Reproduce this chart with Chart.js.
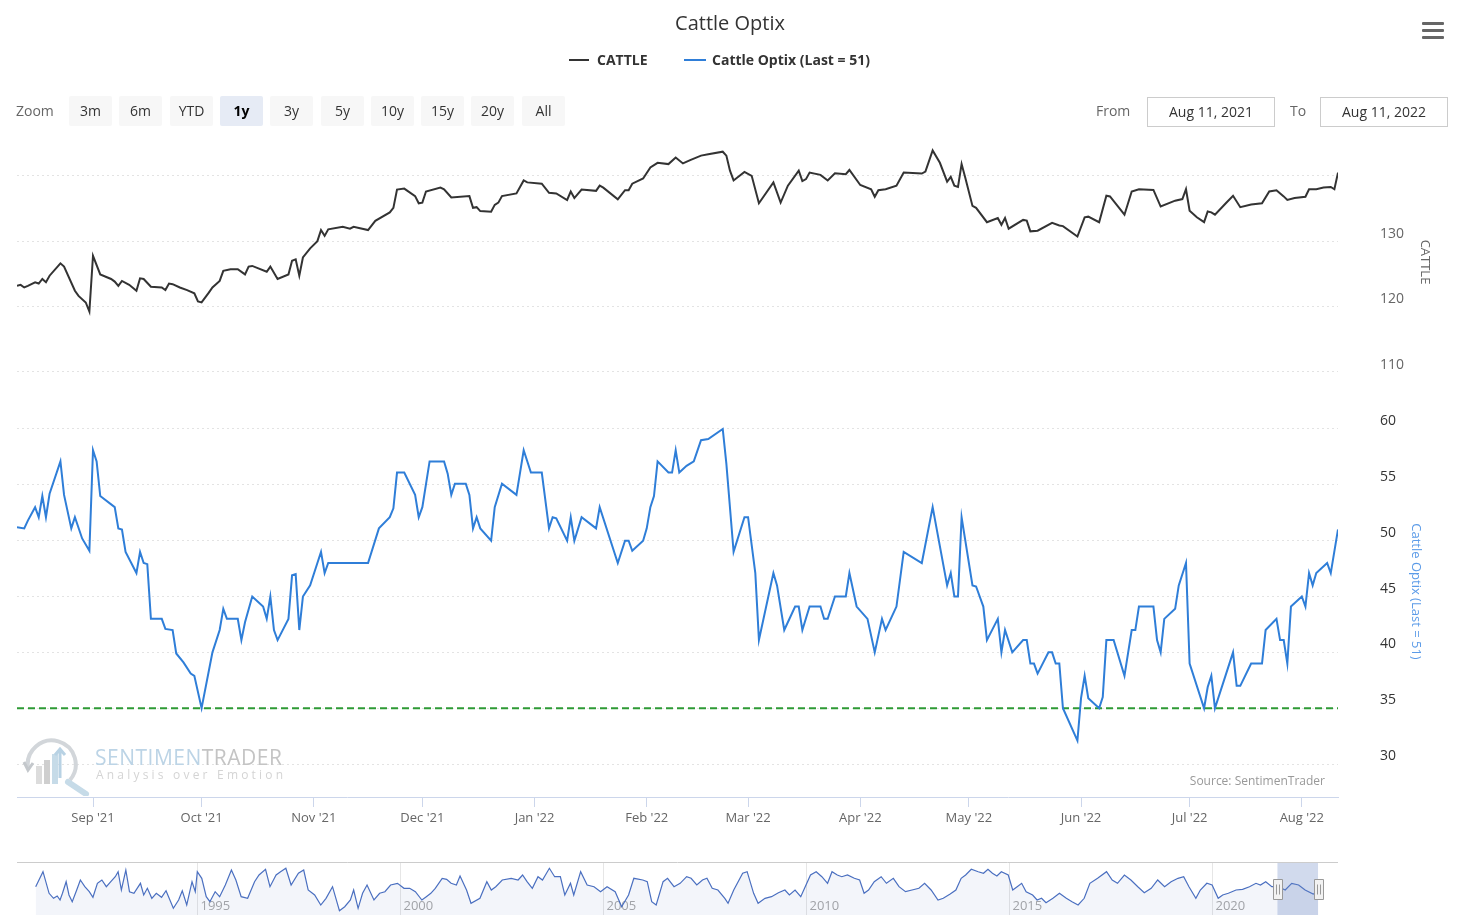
<!DOCTYPE html>
<html>
<head>
<meta charset="utf-8">
<script src="https://cdn.jsdelivr.net/npm/chart.js@4.4.0/dist/chart.umd.min.js"></script>
<style>
  body { margin: 0; background: #fff; font-family: "Open Sans", sans-serif; }
  #wrap { position: relative; width: 1460px; height: 915px; overflow: hidden; }
  canvas { position: absolute; left: 0; }
  .abs { position: absolute; white-space: nowrap; }
  #title { top: 9px; left: 0; width: 1460px; text-align: center; font-size: 20px; line-height: 28px; color: #333; }
  .leg { top: 50px; font-size: 14px; font-weight: bold; line-height: 20px; color: #333; }
  .legline { top: 59px; height: 2px; }
  .btn { top: 96px; width: 43px; height: 30px; line-height: 30px; text-align: center; font-size: 14px; color: #333; background: #f7f7f7; border-radius: 2px; }
  .btn.on { background: #e6ebf5; font-weight: bold; color: #000; }
  .lbl { top: 96px; line-height: 30px; font-size: 14px; color: #666; }
  .inp { top: 97px; width: 126px; height: 28px; line-height: 28px; border: 1px solid #ccc; text-align: center; font-size: 14px; color: #333; }
  .bar { left: 1422px; width: 22px; height: 3px; background: #666; border-radius: 1px; }
</style>
</head>
<body>
<div id="wrap">
  <canvas id="main" width="1460" height="850" style="top:0"></canvas>
  <canvas id="nav" width="1460" height="53" style="top:862px"></canvas>

  <div id="title" class="abs">Cattle Optix</div>
  <div class="abs legline" style="left:569px;width:20px;background:#333"></div>
  <div class="abs leg" style="left:597px">CATTLE</div>
  <div class="abs legline" style="left:684px;width:22px;background:#2f7ed8"></div>
  <div class="abs leg" style="left:712px">Cattle Optix (Last = 51)</div>

  <div class="abs bar" style="top:22px"></div>
  <div class="abs bar" style="top:29px"></div>
  <div class="abs bar" style="top:36px"></div>

  <div class="abs lbl" style="left:16px">Zoom</div>
  <div id="buttons"></div>
  <div class="abs lbl" style="left:1096px">From</div>
  <div class="abs inp" style="left:1147px">Aug 11, 2021</div>
  <div class="abs lbl" style="left:1290px">To</div>
  <div class="abs inp" style="left:1320px">Aug 11, 2022</div>

  <svg class="abs" style="left:20px;top:738px" width="72" height="58" viewBox="0 0 72 58">
    <path d="M8 30 A24 24 0 1 1 50 42" fill="none" stroke="#d2d6da" stroke-width="4"/>
    <path d="M4 24 L8 32 L13 25" fill="none" stroke="#c4c8cc" stroke-width="3"/>
    <rect x="16" y="28" width="6" height="18" fill="#dcdcdc"/>
    <rect x="24" y="22" width="6" height="24" fill="#cfcfcf"/>
    <rect x="32" y="16" width="6" height="30" fill="#c6dbe8"/>
    <path d="M40 40 L40 12 M35 17 L40 11 L45 17" fill="none" stroke="#b8d2e4" stroke-width="3"/>
    <path d="M48 44 L66 56" stroke="#c6dbe8" stroke-width="6" stroke-linecap="round"/>
  </svg>
  <div class="abs" style="left:95px;top:744px;font-size:21px;line-height:26px;letter-spacing:0.5px"><span style="color:#bcd4e6">SENTIMEN</span><span style="color:#c4c4c4">TRADER</span></div>
  <div class="abs" style="left:96px;top:767px;font-size:12px;line-height:16px;letter-spacing:3.2px;color:#d4d4d4">Analysis over Emotion</div>
  <div class="abs" style="right:135px;top:773px;font-size:12px;line-height:16px;color:#999">Source: SentimenTrader</div>
</div>

<script>
// day = days since Aug 11, 2021
const monthDays = [21, 51, 82, 112, 143, 174, 202, 233, 263, 294, 324, 355];
const monthLabels = ["Sep '21", "Oct '21", "Nov '21", "Dec '21", "Jan '22", "Feb '22",
                     "Mar '22", "Apr '22", "May '22", "Jun '22", "Jul '22", "Aug '22"];

const cattleDays = [0,1,2,3,5,6,7,8,9,12,13,16,17,19,20,21,23,26,27,28,29,31,33,34,35,37,40,41,42,43,45,47,49,50,51,53,54,56,57,59,61,63,64,65,69,70,72,75,76,77,78,79,81,83,84,85,86,90,92,93,97,99,103,104,105,107,110,111,112,113,117,118,120,125,126,127,128,131,132,133,134,138,140,141,145,147,149,152,153,154,156,160,161,162,166,168,169,170,173,175,177,180,182,184,186,189,191,195,196,197,198,201,203,205,209,211,213,216,217,218,219,222,224,226,229,230,233,236,237,238,240,243,245,250,251,253,255,257,258,259,260,261,262,264,265,268,271,272,273,274,278,279,280,282,286,288,289,293,295,296,299,301,302,306,308,310,314,316,320,322,323,324,326,328,329,330,331,334,336,338,341,344,346,348,350,351,353,356,357,359,361,363,364,365];
const cattle = [123.15,123.3,122.9,123.15,123.7,123.5,124.2,123.7,124.7,126.6,126.1,122.4,121.6,120.6,119.2,127.75,124.9,124.2,123.8,123.15,123.9,123.3,122.4,124.3,124.2,123.0,122.9,122.5,123.5,123.4,122.9,122.5,122.0,120.75,120.6,122.1,122.9,123.9,125.45,125.7,125.7,124.9,126.1,126.2,125.3,126.1,124.2,124.9,127.0,127.2,124.7,127.5,128.9,130.0,131.7,130.8,131.8,132.2,131.9,132.2,131.7,133.1,134.4,135.1,137.9,138.05,136.9,135.8,135.9,137.6,138.2,137.95,136.7,136.9,135.1,135.2,134.6,134.5,135.55,135.9,136.9,137.3,139.3,139.0,138.8,137.4,137.3,136.3,137.6,136.6,137.9,137.7,138.5,138.2,136.4,137.8,137.8,138.8,139.6,141.3,142.0,141.8,142.8,141.9,142.4,143.1,143.3,143.7,143.1,140.8,139.3,140.6,140.0,135.8,139.0,135.9,138.5,140.8,139.2,139.5,140.5,140.15,139.3,140.4,140.25,140.9,138.6,137.95,136.8,137.8,137.95,138.5,140.5,140.35,140.65,143.9,142.0,139.1,139.85,138.5,138.3,141.8,139.75,135.4,135.1,132.9,133.55,132.5,133.55,131.9,133.25,133.15,131.5,131.6,132.8,132.4,132.3,130.7,133.65,133.75,132.9,136.95,136.85,134.05,137.6,137.95,137.85,135.3,136.2,136.45,137.95,134.65,133.65,132.9,134.55,134.4,134.05,135.8,136.95,135.2,135.6,135.8,137.6,137.8,136.85,136.3,136.6,136.8,137.95,137.95,138.2,138.3,137.95,140.5];

const optixDays = [0,2,3,5,6,7,8,9,12,13,15,16,18,20,21,22,23,27,28,29,30,33,34,35,36,37,40,41,43,44,46,48,49,51,54,56,57,58,61,62,63,65,68,69,70,71,72,75,76,77,78,79,81,83,84,85,86,97,100,103,104,105,107,110,111,112,114,118,119,120,121,124,125,126,127,128,131,132,134,138,140,142,145,147,148,149,152,153,154,156,160,161,166,168,169,170,173,174,175,176,177,180,181,182,183,185,187,189,191,195,196,198,201,202,204,205,209,210,212,215,216,217,219,222,223,224,226,229,230,232,235,237,239,240,243,245,250,253,257,258,259,260,261,264,265,267,268,271,272,273,275,278,279,280,281,282,285,286,287,288,289,293,294,295,296,299,300,301,303,306,308,309,310,314,315,316,317,320,321,323,324,328,329,330,331,336,337,338,341,344,345,348,349,350,351,352,355,356,357,358,359,362,363,365];
const optix = [51.2,51.1,51.8,53.0,52.1,54.0,52.1,54.2,57.1,54.1,51.1,52.1,50.2,49.1,58.1,57.1,54.0,53.0,51.1,51.0,49.0,47.1,49.0,48.0,47.9,43.0,43.0,42.1,42.0,39.9,39.1,38.1,37.9,35.0,40.0,42.0,43.9,43.0,43.0,41.1,42.7,45.0,44.1,43.0,45.0,42.0,41.1,43.0,46.9,47.0,42.0,45.0,46.0,48.0,49.0,47.1,48.0,48.0,51.1,52.1,52.9,56.1,56.1,54.1,52.1,53.0,57.1,57.1,56.0,54.1,55.1,55.1,54.1,51.1,52.1,51.1,50.0,53.0,55.1,54.1,58.1,56.1,56.1,51.1,52.1,52.0,50.0,52.1,50.0,52.1,51.1,53.0,48.0,50.0,50.0,49.1,50.0,51.1,53.0,54.0,57.1,56.1,56.1,58.1,56.1,56.7,57.1,59.0,59.1,60.0,56.9,49.0,52.1,52.1,47.1,41.1,47.1,46.0,42.0,44.1,44.1,42.0,44.1,44.1,43.0,43.0,45.0,45.0,47.1,44.1,43.0,40.0,43.0,42.0,44.1,49.0,48.0,53.0,46.0,47.1,45.0,45.0,52.1,46.0,45.9,44.1,41.1,43.0,40.0,42.0,40.0,41.1,41.1,39.0,39.0,38.1,40.0,40.0,39.0,39.0,35.0,32.1,35.9,37.9,35.9,35.0,36.0,41.1,41.1,37.9,42.0,42.0,44.1,44.1,41.1,40.0,43.0,43.9,46.0,48.0,39.0,35.0,36.9,37.9,35.0,40.0,37.0,37.0,39.0,39.0,42.0,43.0,41.1,41.1,39.0,44.1,45.0,44.1,47.1,46.0,47.1,48.0,47.1,51.0];

const thresholdLevel = 35;

const cattleTicks = [110, 120, 130, 140];
const optixTicks = [30, 35, 40, 45, 50, 55, 60];

const rangeButtons = ['3m', '6m', 'YTD', '1y', '3y', '5y', '10y', '15y', '20y', 'All'];
const activeRange = '1y';

// navigator: full history of Cattle Optix (decimal years)
const navYears = [1991.03,1991.21,1991.36,1991.47,1991.56,1991.63,1991.69,1991.78,1991.85,1991.93,1992.04,1992.13,1992.24,1992.35,1992.44,1992.55,1992.66,1992.77,1992.88,1992.99,1993.06,1993.14,1993.25,1993.34,1993.45,1993.61,1993.69,1993.78,1993.89,1994.00,1994.13,1994.24,1994.42,1994.55,1994.64,1994.75,1994.88,1994.96,1995.01,1995.12,1995.23,1995.32,1995.45,1995.56,1995.70,1995.85,1995.96,1996.09,1996.25,1996.42,1996.53,1996.69,1996.80,1996.95,1997.06,1997.19,1997.32,1997.50,1997.63,1997.74,1997.90,1998.05,1998.18,1998.34,1998.51,1998.64,1998.78,1998.86,1998.97,1999.08,1999.19,1999.36,1999.50,1999.63,1999.77,1999.94,2000.10,2000.24,2000.38,2000.54,2000.65,2000.76,2000.87,2001.04,2001.15,2001.26,2001.39,2001.48,2001.64,2001.75,2001.97,2002.14,2002.25,2002.36,2002.52,2002.74,2002.91,2003.02,2003.13,2003.26,2003.40,2003.51,2003.68,2003.81,2003.95,2004.06,2004.20,2004.28,2004.45,2004.61,2004.78,2004.94,2005.10,2005.30,2005.46,2005.63,2005.76,2005.98,2006.09,2006.20,2006.31,2006.48,2006.59,2006.75,2006.90,2007.06,2007.17,2007.31,2007.45,2007.56,2007.69,2007.83,2008.00,2008.08,2008.22,2008.44,2008.55,2008.71,2008.82,2008.99,2009.15,2009.32,2009.48,2009.59,2009.73,2009.87,2009.98,2010.11,2010.25,2010.39,2010.53,2010.64,2010.77,2010.88,2011.02,2011.19,2011.32,2011.43,2011.54,2011.68,2011.85,2011.98,2012.15,2012.29,2012.45,2012.61,2012.78,2012.92,2013.08,2013.25,2013.38,2013.55,2013.69,2013.82,2013.93,2014.07,2014.24,2014.37,2014.48,2014.59,2014.70,2014.81,2014.98,2015.09,2015.20,2015.31,2015.42,2015.58,2015.69,2015.80,2015.91,2016.08,2016.24,2016.41,2016.55,2016.70,2016.85,2016.99,2017.18,2017.40,2017.54,2017.67,2017.84,2018.00,2018.17,2018.33,2018.50,2018.66,2018.83,2018.99,2019.16,2019.30,2019.43,2019.60,2019.71,2019.87,2020.00,2020.15,2020.26,2020.40,2020.59,2020.75,2020.92,2021.08,2021.19,2021.32,2021.47,2021.63,2021.80,2021.96,2022.13,2022.29,2022.49,2022.62];
const navValues = [48.3,63.3,41.7,36.7,39,35,41.7,53.3,40,33.3,45,55,48.3,43.3,37.7,51.7,55,48.3,53.3,58.3,63.3,45,65,43.3,41.7,51.7,40,46.7,36.7,41.7,37.7,44.3,26.7,35,44.3,30,53.3,43.3,63.3,56.7,38.3,33.3,43.3,38.3,50,65,55,38.3,36.7,53.3,60,65.7,48.3,60,63.3,66.7,50,61.7,65,45,40,30,36.7,48.3,24.3,28.3,35,45,26.7,41.7,50,35,41.7,43.3,50,51.7,46.7,46.7,43.3,35,38.3,41.7,46.7,56.7,55.7,51.7,50,59,45,31.7,36.7,53.3,45,48.3,55,56.7,55,60,53.3,46.7,58.3,55,66.7,58.3,58.3,40,51.7,40,63.3,50,48.3,43.3,48.3,43.3,28.3,40,56.7,55,53.3,33.3,30,53.3,56.7,48.3,51.7,58.3,56.7,50,55,56.7,46.7,45,36.7,31.7,45,61.7,63.3,41.7,31.7,36.7,38.3,42.3,45,40,45,38.3,48.3,60,63.3,58.3,51.7,63.3,60,58.3,60,56.7,55,41.7,45,53.3,58.3,51.7,56.7,48.3,43.3,45,46.7,51.7,45,35,36.7,41,45,56.7,60,65.7,63.3,61.7,65.7,61.7,59,63.3,60,45,48.3,51.7,43.3,40,35,36.7,32.3,36.7,41.7,36.7,33.3,30,36.7,51.7,56.7,63.3,55,51.7,60,55,48.3,42.3,46.7,55,48.3,53.3,56.7,58.3,48.3,36.7,45,51.7,50,36.7,40,41.7,45,45.7,48.3,51.7,50,53.3,48.3,48.3,45,51.7,50,45,41,43.3];
const navYearTicks = [1995, 2000, 2005, 2010, 2015, 2020];
const selFrom = 2021 + 222 / 365;   // Aug 11, 2021
const selTo = 2022 + 222 / 365;     // Aug 11, 2022

Chart.defaults.font.family = '"Open Sans", sans-serif';

// range selector buttons
const btnHost = document.getElementById('buttons');
rangeButtons.forEach((b, i) => {
  const d = document.createElement('div');
  d.className = 'abs btn' + (b === activeRange ? ' on' : '');
  d.style.left = Math.round(69 + i * 50.3) + 'px';
  d.textContent = b;
  btnHost.appendChild(d);
});

const toXY = (xs, ys) => xs.map((x, i) => ({ x: x, y: ys[i] }));

new Chart(document.getElementById('main').getContext('2d'), {
  type: 'line',
  data: {
    datasets: [
      {
        label: 'CATTLE',
        data: toXY(cattleDays, cattle),
        yAxisID: 'y',
        borderColor: '#333333',
        borderWidth: 2,
        pointRadius: 0,
        tension: 0
      },
      {
        label: 'Cattle Optix (Last = 51)',
        data: toXY(optixDays, optix),
        yAxisID: 'y2',
        borderColor: '#2f7ed8',
        borderWidth: 2,
        pointRadius: 0,
        tension: 0
      },
      {
        label: 'threshold',
        data: [{ x: 0, y: thresholdLevel }, { x: 365, y: thresholdLevel }],
        yAxisID: 'y2',
        borderColor: '#2e9a35',
        borderDash: [7, 4],
        borderWidth: 2,
        pointRadius: 0
      }
    ]
  },
  options: {
    responsive: false,
    animation: false,
    layout: { padding: { top: 138, left: 17, right: 0, bottom: 0 } },
    plugins: { legend: { display: false }, tooltip: { enabled: false } },
    scales: {
      x: {
        type: 'linear',
        min: 0,
        max: 365,
        afterBuildTicks: s => { s.ticks = monthDays.map(v => ({ value: v })); },
        afterFit: s => { s.height = 53; },
        ticks: {
          callback: (v, i) => monthLabels[i],
          color: '#666',
          font: { size: 13 },
          padding: 3,
          maxRotation: 0,
          autoSkip: false
        },
        grid: { drawOnChartArea: false, drawTicks: true, tickLength: 10, color: '#ccd6eb' },
        border: { display: true, color: '#ccd6eb' }
      },
      y: {
        position: 'right',
        stack: 'panes',
        stackWeight: 248,
        min: 107.8,
        max: 145.8,
        afterBuildTicks: s => { s.ticks = cattleTicks.map(v => ({ value: v })); },
        afterFit: s => { s.width = 122; },
        ticks: {
          callback: v => (v === 140 ? '' : v),
          color: '#666',
          font: { size: 14 },
          padding: 42,
          labelOffset: -7
        },
        grid: { color: '#e3e3e3', drawTicks: false },
        border: { display: false, dash: [2, 3] },
        title: {
          display: true,
          text: 'CATTLE',
          color: '#666',
          font: { size: 13 },
          padding: { top: 27, bottom: 0 }
        }
      },
      y2: {
        position: 'right',
        stack: 'panes',
        stackWeight: 411,
        min: 27.05,
        max: 63.85,
        afterBuildTicks: s => { s.ticks = optixTicks.map(v => ({ value: v })); },
        afterFit: s => { s.width = 122; },
        ticks: {
          color: '#333',
          font: { size: 14 },
          padding: 42,
          labelOffset: -8
        },
        grid: { color: '#e3e3e3', drawTicks: false },
        border: { display: false, dash: [2, 3] },
        title: {
          display: true,
          text: 'Cattle Optix (Last = 51)',
          color: '#5b9be8',
          font: { size: 13 },
          padding: { top: 36, bottom: 0 }
        }
      }
    }
  }
});

// navigator decorations: year separators, outline, selected range and handles
const navDecor = {
  id: 'navDecor',
  beforeDatasetsDraw(chart) {
    const { ctx, chartArea, scales } = chart;
    ctx.save();
    ctx.font = '13px "Open Sans", sans-serif';
    ctx.textBaseline = 'middle';
    navYearTicks.forEach(yr => {
      const px = Math.round(scales.x.getPixelForValue(yr)) + 0.5;
      ctx.strokeStyle = '#e6e6e6';
      ctx.lineWidth = 1;
      ctx.beginPath();
      ctx.moveTo(px, chartArea.top);
      ctx.lineTo(px, chartArea.bottom);
      ctx.stroke();
      ctx.fillStyle = '#a8a8a8';
      ctx.fillText(String(yr), px + 3, chartArea.top + 44);
    });
    ctx.restore();
  },
  afterDatasetsDraw(chart) {
    const { ctx, chartArea, scales } = chart;
    const x0 = scales.x.getPixelForValue(selFrom);
    const x1 = scales.x.getPixelForValue(selTo);
    ctx.save();
    ctx.fillStyle = 'rgba(102,133,194,0.3)';
    ctx.fillRect(x0, chartArea.top, x1 - x0, chartArea.bottom - chartArea.top);
    ctx.strokeStyle = '#cccccc';
    ctx.lineWidth = 1;
    ctx.beginPath();
    ctx.moveTo(chartArea.left, chartArea.top + 0.5);
    ctx.lineTo(chartArea.right, chartArea.top + 0.5);
    ctx.stroke();
    [x0, x1].forEach(hx => {
      const left = Math.round(hx - 4.5) + 0.5;
      const top = chartArea.top + 17.5;
      ctx.fillStyle = '#f2f2f2';
      ctx.strokeStyle = '#999';
      ctx.beginPath();
      ctx.rect(left, top, 9, 20);
      ctx.fill();
      ctx.stroke();
      ctx.beginPath();
      ctx.moveTo(left + 3, top + 5);
      ctx.lineTo(left + 3, top + 15);
      ctx.moveTo(left + 6, top + 5);
      ctx.lineTo(left + 6, top + 15);
      ctx.stroke();
    });
    ctx.restore();
  }
};

new Chart(document.getElementById('nav').getContext('2d'), {
  type: 'line',
  data: {
    datasets: [{
      data: toXY(navYears, navValues),
      borderColor: '#4a6fc0',
      borderWidth: 1.2,
      backgroundColor: 'rgba(51,92,173,0.06)',
      fill: 'start',
      pointRadius: 0,
      tension: 0
    }]
  },
  options: {
    responsive: false,
    animation: false,
    layout: { padding: { left: 17, right: 122, top: 0, bottom: 0 } },
    plugins: { legend: { display: false }, tooltip: { enabled: false } },
    scales: {
      x: { type: 'linear', display: false, min: 1990.57, max: 2023.1 },
      y: { display: false, min: 20, max: 73 }
    }
  },
  plugins: [navDecor]
});
</script>
</body>
</html>
